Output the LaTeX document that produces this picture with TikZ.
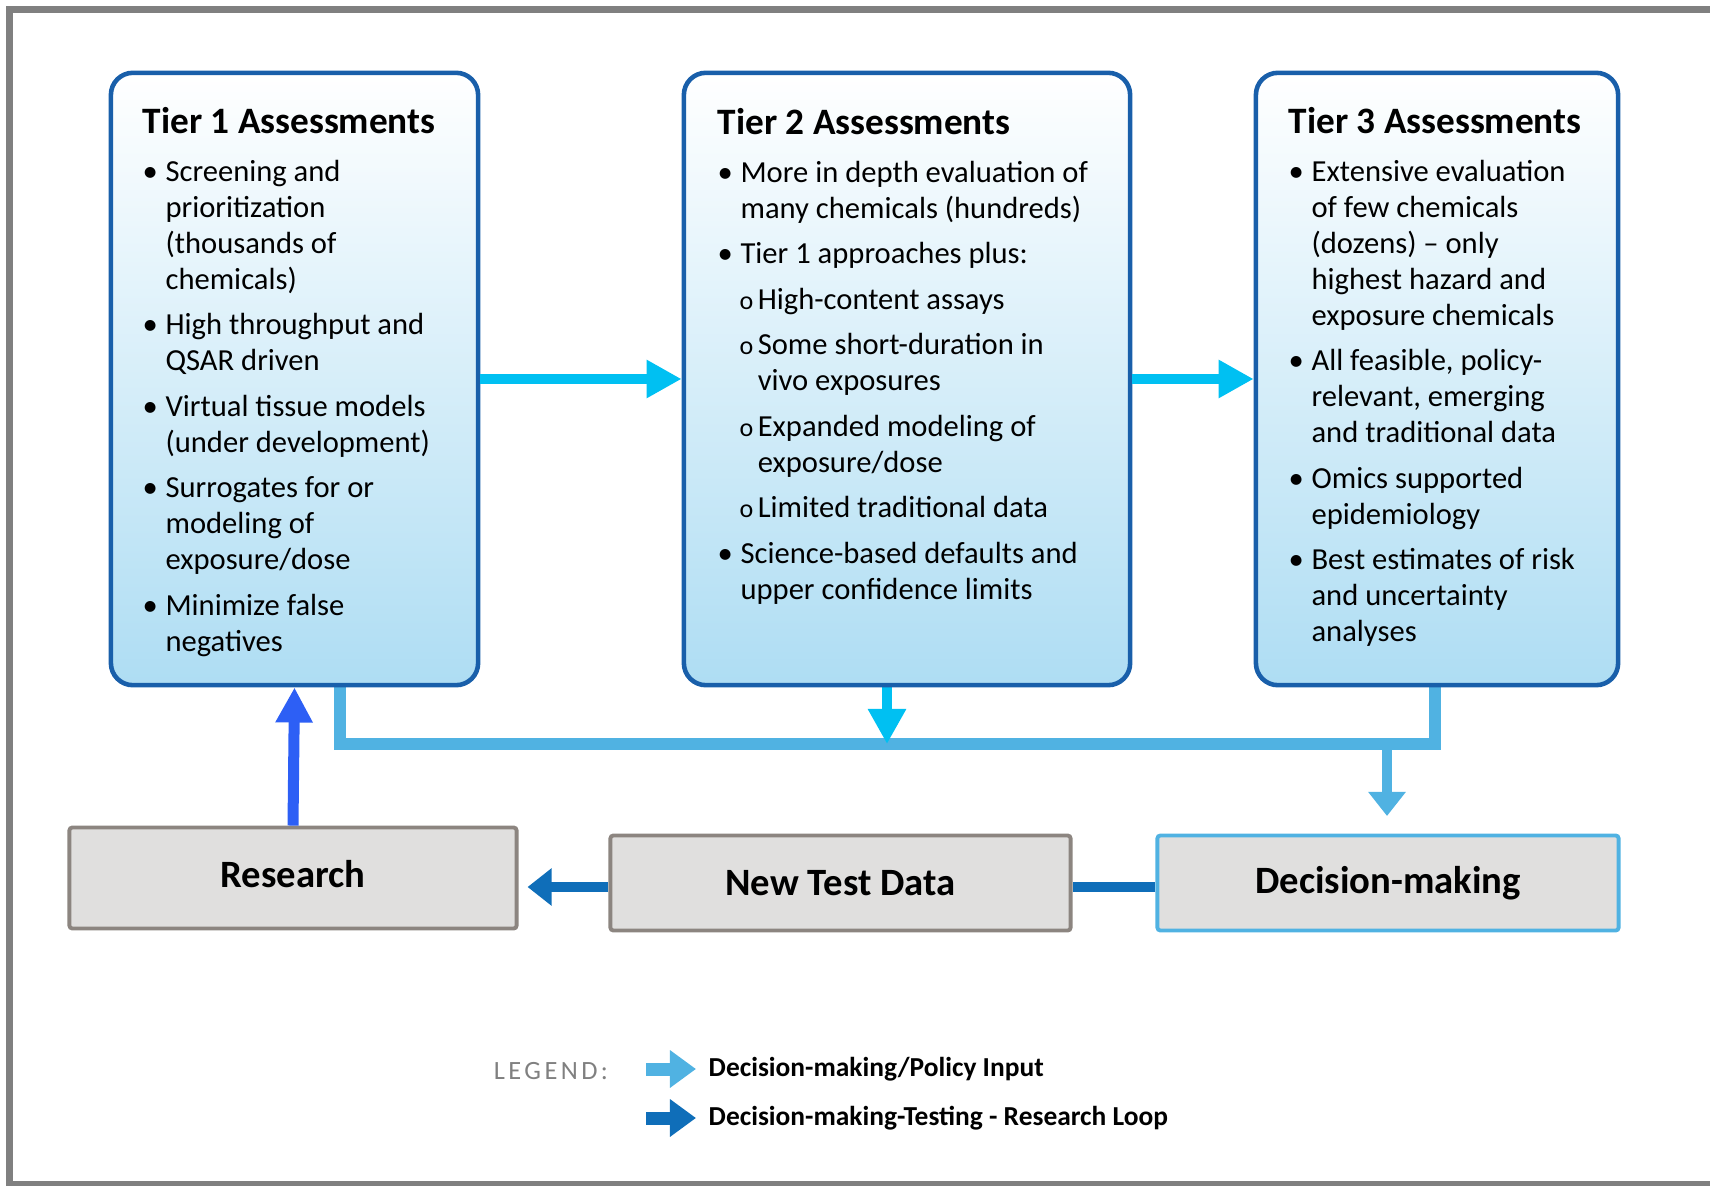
\documentclass[tikz,border=0pt]{standalone}
\usepackage{fontspec}
\setmainfont{Carlito}
\usetikzlibrary{arrows.meta}
\definecolor{tieredge}{RGB}{25,95,170}
\definecolor{tierfill}{RGB}{174,221,243}
\definecolor{tiercyan}{RGB}{0,192,242}
\definecolor{barblue}{RGB}{80,178,226}
\definecolor{loopblue}{RGB}{15,110,185}
\definecolor{researchblue}{RGB}{45,95,245}
\definecolor{boxfill}{RGB}{224,223,222}
\definecolor{boxedge}{RGB}{140,133,128}
\definecolor{framegray}{RGB}{128,128,128}
\newcommand{\tierbody}{\fontsize{8.7pt}{10.24pt}\selectfont\setlength{\parskip}{2.7pt}\spaceskip=0pt\xspaceskip=0pt}
\newcommand{\tierhead}[1]{{\fontsize{10.6pt}{12pt}\selectfont\bfseries #1\par}\vspace{0.43pt}}
\newcommand{\tieritem}[1]{\par\hangindent=6.5pt\hangafter=1\noindent\makebox[6.5pt][l]{\textbullet}#1\par}
\newcommand{\tiersub}[1]{\par\leftskip=6.2pt\hangindent=5.2pt\hangafter=1\noindent\makebox[5.2pt][l]{\fontsize{7.4pt}{9pt}\selectfont o}#1\par\leftskip=0pt}
\tikzstyle{frame}=[draw=framegray, line width=0.07cm]
\tikzstyle{tier box}=[draw=tieredge, line width=1.3pt, rounded corners=0.22cm, top color=white, bottom color=tierfill, minimum height=6.12cm, inner sep=0pt]
\tikzstyle{tier text}=[anchor=base west, inner sep=0pt, align=left]
\tikzstyle{data box}=[draw=boxedge, fill=boxfill, line width=1.1pt, rounded corners=0.03cm, inner sep=0pt, font=\fontsize{11pt}{13pt}\selectfont\bfseries]
\tikzstyle{tier arrow}=[draw=tiercyan, line width=0.1cm, -{Triangle[length=0.35cm, width=0.36cm]}]
\tikzstyle{policy arrow}=[draw=barblue, line width=0.1cm, -{Triangle[length=0.24cm, width=0.36cm]}]
\tikzstyle{loop arrow}=[draw=loopblue, line width=0.1cm, -{Triangle[length=0.24cm, width=0.36cm]}]
\tikzstyle{key arrow}=[line width=0.13cm, -{Triangle[length=0.26cm, width=0.36cm]}]
\tikzstyle{key text}=[anchor=west, inner sep=0pt, font=\fontsize{7.8pt}{9pt}\selectfont\bfseries]

\begin{document}
\begin{tikzpicture}[x=0.01cm, y=-0.01cm]
  \useasboundingbox (0,0) rectangle (1710,1186);
  \draw[frame] (1720,1184) -- (9.5,1184) -- (9.5,9.5) -- (1720,9.5);

  \coordinate (t1 foot) at (340,687);
  \coordinate (t2 foot) at (887,687);
  \coordinate (t3 foot) at (1435,687);
  \coordinate (bar left) at (340,744);
  \coordinate (bar mid) at (887,744);
  \coordinate (bar right) at (1435,744);
  \coordinate (drop top) at (1387,744);
  \coordinate (drop tip) at (1387,816);
  \coordinate (loop y) at (0,887);

  \draw[barblue, line width=0.12cm] (t1 foot) -- (bar left) -- (bar right) -- (t3 foot);
  \draw[tier arrow] (t2 foot) -- (bar mid);
  \draw[policy arrow] (drop top) -- (drop tip);

  \node[tier box, minimum width=3.67cm] (tier1) at (294.5,379) {};
  \node[tier box, minimum width=4.46cm] (tier2) at (907,379) {};
  \node[tier box, minimum width=3.62cm] (tier3) at (1437,379) {};

  \node[tier text, text width=3.3cm] (tier1 list) at (142,134) {\tierbody
    \tierhead{Tier 1 Assessments}
    \tieritem{Screening and\newline prioritization\newline (thousands of\newline chemicals)}
    \tieritem{High throughput and\newline QSAR driven}
    \tieritem{Virtual tissue models\newline (under development)}
    \tieritem{Surrogates for or\newline modeling of\newline exposure/dose}
    \tieritem{Minimize false\newline negatives}};
  \node[tier text, text width=3.95cm] (tier2 list) at (717,135) {\tierbody
    \tierhead{Tier 2 Assessments}
    \tieritem{More in depth evaluation of\newline many chemicals (hundreds)}
    \tieritem{Tier 1 approaches plus:}
    \tiersub{High-content assays}
    \tiersub{Some short-duration in\newline vivo exposures}
    \tiersub{Expanded modeling of\newline exposure/dose}
    \tiersub{Limited traditional data}
    \tieritem{Science-based defaults and\newline upper confidence limits}};
  \node[tier text, text width=3.2cm] (tier3 list) at (1288,134) {\tierbody
    \tierhead{Tier 3 Assessments}
    \tieritem{Extensive evaluation\newline of few chemicals\newline (dozens) – only\newline highest hazard and\newline exposure chemicals}
    \tieritem{All feasible, policy-\newline relevant, emerging\newline and traditional data}
    \tieritem{Omics supported\newline epidemiology}
    \tieritem{Best estimates of risk\newline and uncertainty\newline analyses}};

  \draw[tier arrow] (tier1.east) -- (tier2.west);
  \draw[tier arrow] (tier2.east) -- (tier3.west);

  \node[data box, minimum width=4.47cm, minimum height=1.01cm, text depth=0.08cm] (research) at (293,878) {Research};
  \node[data box, minimum width=4.60cm, minimum height=0.95cm] (test data) at (840.5,883) {New Test Data};
  \node[data box, draw=barblue, minimum width=4.61cm, minimum height=0.95cm] (decision) at (1388,883) {Decision-making};

  \draw[researchblue, line width=0.11cm, -{Triangle[length=0.35cm, width=0.35cm]}] (research.north) -- (tier1.south);
  \draw[loop arrow, shorten >=0.09cm] (test data.west |- loop y) -- (research.east |- loop y);
  \draw[loopblue, line width=0.1cm] (decision.west |- loop y) -- (test data.east |- loop y);

  % legend
  \node[text=framegray, inner sep=0pt, font=\fontsize{7.5pt}{9pt}\selectfont\addfontfeatures{LetterSpace=13}] (legend) at (551,1071) {LEGEND:};
  \node[key text] (policy key) at (708,1069) {Decision-making/Policy Input};
  \node[key text] (loop key) at (708,1118) {Decision-making-Testing - Research Loop};
  \coordinate (policy start) at (646,1069);
  \coordinate (loop start) at (646,1118);
  \draw[key arrow, barblue, shorten >=0.12cm] (policy start) -- (policy key.west);
  \draw[key arrow, loopblue, shorten >=0.12cm] (loop start) -- (loop key.west);
\end{tikzpicture}
\end{document}
